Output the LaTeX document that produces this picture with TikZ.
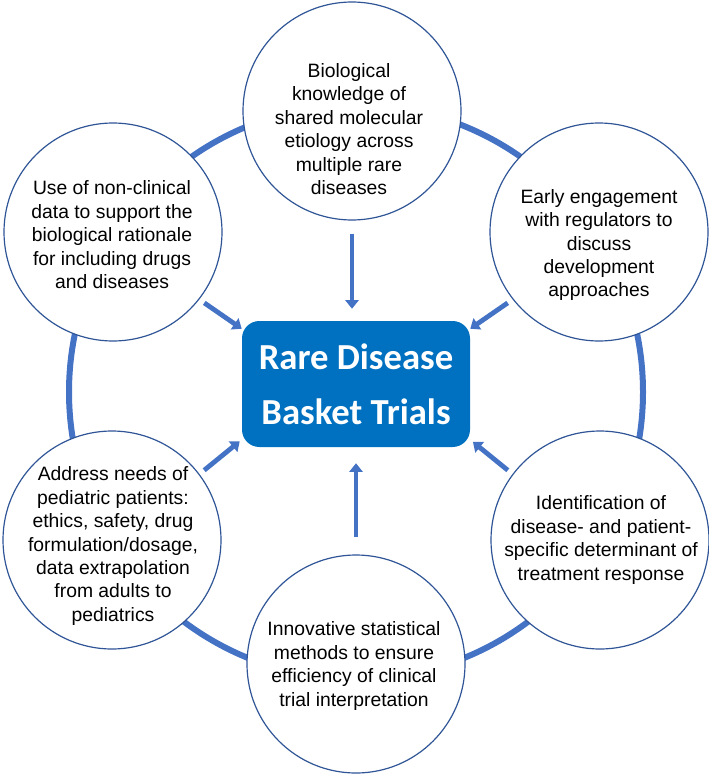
\documentclass[tikz,border=0pt]{standalone}
\usepackage{fontspec}
\setmainfont{Liberation Sans}
\newfontfamily\corefont{Carlito}
\usetikzlibrary{arrows.meta}
\definecolor{ringblue}{HTML}{4472C4}
\definecolor{rimblue}{HTML}{2F5597}
\definecolor{coreblue}{HTML}{0070C0}

\begin{document}
\begin{tikzpicture}[x=0.75pt,y=-0.75pt,
    topic/.style={circle,draw=rimblue,line width=0.9pt,fill=white,minimum size=163.5pt,inner sep=0pt},
    topictext/.style={align=center,font=\fontsize{14.5}{17.6}\selectfont,inner sep=0pt},
    core/.style={rounded corners=13pt,fill=coreblue,minimum width=171pt,minimum height=94.5pt,
      align=center,text=white,font=\corefont\bfseries\fontsize{27.5}{41}\selectfont},
    feed/.style={draw=ringblue,line width=3.6pt,-{Triangle[width=10pt,length=6.5pt]}}]

  \useasboundingbox (0,0) rectangle (709,774);

  % outer ring
  \coordinate (hub) at (356,392);
  \draw[ringblue,line width=4.5pt] (hub) circle[radius=215.25pt];

  \begin{scope}[every node/.style={topic}]
    \node (bio)     at (352,111) {};
    \node (nonclin) at (113,232) {};
    \node (regul)   at (599,232) {};
    \node (peds)    at (112,540) {};
    \node (respon)  at (600,540) {};
    \node (stat)    at (356,664) {};
  \end{scope}

  \begin{scope}[every node/.style={topictext}]
    \node (bio-t)     at (349,129) {Biological\\knowledge of\\shared molecular\\etiology across\\multiple rare\\diseases};
    \node (nonclin-t) at (112,235) {Use of non-clinical\\data to support the\\biological rationale\\for including drugs\\and diseases};
    \node (regul-t)   at (599,245) {Early engagement\\with regulators to\\discuss\\development\\approaches};
    \node (peds-t)    at (113,546) {Address needs of\\pediatric patients:\\ethics, safety, drug\\formulation/dosage,\\data extrapolation\\from adults to\\pediatrics};
    \node (respon-t)  at (601,540) {Identification of\\disease- and patient-\\specific determinant of\\treatment response};
    \node (stat-t)    at (354,666) {Innovative statistical\\methods to ensure\\efficiency of clinical\\trial interpretation};
  \end{scope}

  \node[core] (core) at (356,384) {Rare Disease\\Basket Trials};

  % arrows into the centre
  \draw[feed,shorten <=9.75pt,shorten >=9pt] (bio.south) -- (bio.south |- core.north);
  \draw[feed,shorten <=12.75pt,shorten >=12pt] (stat.north) -- (stat.north |- core.south);
  \draw[feed,shorten <=4.5pt] (nonclin.-38) -- ([yshift=-6pt]core.north west);
  \draw[feed,shorten <=4.5pt] (regul.218) -- ([yshift=-6pt]core.north east);
  \draw[feed,shorten <=4.5pt] (peds.37) -- ([xshift=-1.5pt,yshift=4.5pt]core.south west);
  \draw[feed,shorten <=4.5pt] (respon.143) -- ([xshift=2pt,yshift=4pt]core.south east);

\end{tikzpicture}
\end{document}
